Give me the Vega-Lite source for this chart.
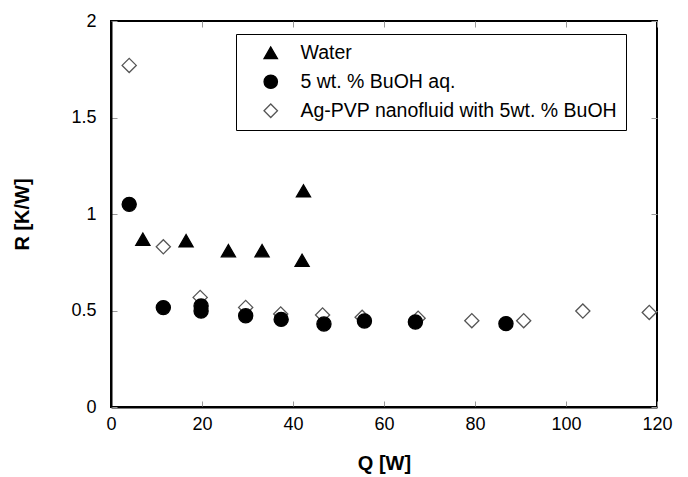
{
  "$schema": "https://vega.github.io/schema/vega-lite/v6.json",
  "width": 546,
  "height": 386,
  "autosize": "none",
  "padding": {"left": 111, "top": 21, "right": 31, "bottom": 70},
  "background": "white",
  "config": {
    "font": "Liberation Sans",
    "view": {"stroke": "black", "strokeWidth": 2},
    "axis": {"grid": false, "labelFlush": false},
    "legend": {
      "title": null, "orient": "none", "legendX": 125, "legendY": 13,
      "strokeColor": "black", "fillColor": "white", "padding": 9,
      "labelFontSize": 19.5, "labelColor": "black", "labelLimit": 600,
      "symbolSize": 180, "symbolOffset": 16, "labelOffset": 20, "rowPadding": 8,
      "symbolStrokeWidth": 1.3
    }
  },
  "data": {
    "values": [
      {"Q": 4.0, "R": 1.77, "fluid": "Ag-PVP nanofluid with 5wt. % BuOH"},
      {"Q": 11.5, "R": 0.83, "fluid": "Ag-PVP nanofluid with 5wt. % BuOH"},
      {"Q": 19.6, "R": 0.568, "fluid": "Ag-PVP nanofluid with 5wt. % BuOH"},
      {"Q": 29.6, "R": 0.516, "fluid": "Ag-PVP nanofluid with 5wt. % BuOH"},
      {"Q": 37.3, "R": 0.482, "fluid": "Ag-PVP nanofluid with 5wt. % BuOH"},
      {"Q": 46.5, "R": 0.477, "fluid": "Ag-PVP nanofluid with 5wt. % BuOH"},
      {"Q": 55.2, "R": 0.465, "fluid": "Ag-PVP nanofluid with 5wt. % BuOH"},
      {"Q": 67.5, "R": 0.46, "fluid": "Ag-PVP nanofluid with 5wt. % BuOH"},
      {"Q": 79.3, "R": 0.447, "fluid": "Ag-PVP nanofluid with 5wt. % BuOH"},
      {"Q": 90.7, "R": 0.447, "fluid": "Ag-PVP nanofluid with 5wt. % BuOH"},
      {"Q": 103.7, "R": 0.497, "fluid": "Ag-PVP nanofluid with 5wt. % BuOH"},
      {"Q": 118.3, "R": 0.49, "fluid": "Ag-PVP nanofluid with 5wt. % BuOH"},
      {"Q": 4.0, "R": 1.05, "fluid": "5 wt. % BuOH aq."},
      {"Q": 11.5, "R": 0.515, "fluid": "5 wt. % BuOH aq."},
      {"Q": 19.8, "R": 0.523, "fluid": "5 wt. % BuOH aq."},
      {"Q": 19.8, "R": 0.497, "fluid": "5 wt. % BuOH aq."},
      {"Q": 29.6, "R": 0.473, "fluid": "5 wt. % BuOH aq."},
      {"Q": 37.4, "R": 0.454, "fluid": "5 wt. % BuOH aq."},
      {"Q": 46.8, "R": 0.43, "fluid": "5 wt. % BuOH aq."},
      {"Q": 55.7, "R": 0.446, "fluid": "5 wt. % BuOH aq."},
      {"Q": 66.9, "R": 0.44, "fluid": "5 wt. % BuOH aq."},
      {"Q": 86.8, "R": 0.432, "fluid": "5 wt. % BuOH aq."},
      {"Q": 7.0, "R": 0.869, "fluid": "Water"},
      {"Q": 16.5, "R": 0.862, "fluid": "Water"},
      {"Q": 25.8, "R": 0.81, "fluid": "Water"},
      {"Q": 33.2, "R": 0.81, "fluid": "Water"},
      {"Q": 42.0, "R": 0.76, "fluid": "Water"},
      {"Q": 42.3, "R": 1.12, "fluid": "Water"}
    ]
  },
  "layer": [
    {
      "mark": {"type": "point", "size": 200, "strokeWidth": 1.3, "opacity": 1},
      "encoding": {
        "x": {
          "field": "Q", "type": "quantitative",
          "scale": {"domain": [0, 120], "nice": false, "zero": false},
          "axis": {
            "title": "Q [W]", "orient": "bottom", "values": [0, 20, 40, 60, 80, 100, 120],
            "domainColor": "black", "domainWidth": 2, "tickSize": -6, "tickColor": "#999",
            "labelFontSize": 18, "labelColor": "black", "labelPadding": 14,
            "titleFontSize": 20, "titleFontWeight": "bold", "titleColor": "black", "titlePadding": 20
          }
        },
        "y": {
          "field": "R", "type": "quantitative",
          "scale": {"domain": [0, 2], "nice": false},
          "axis": {
            "title": "R [K/W]", "orient": "left", "values": [0, 0.5, 1, 1.5, 2], "format": "~g",
            "domainColor": "black", "domainWidth": 2, "tickSize": -6, "tickColor": "#999",
            "labelFontSize": 18, "labelColor": "black", "labelPadding": 21,
            "titleFontSize": 20, "titleFontWeight": "bold", "titleColor": "black", "titlePadding": 38
          }
        },
        "shape": {
          "field": "fluid", "type": "nominal",
          "scale": {
            "domain": ["Water", "5 wt. % BuOH aq.", "Ag-PVP nanofluid with 5wt. % BuOH"],
            "range": ["triangle-up", "circle", "diamond"]
          }
        },
        "fill": {
          "field": "fluid", "type": "nominal",
          "scale": {
            "domain": ["Water", "5 wt. % BuOH aq.", "Ag-PVP nanofluid with 5wt. % BuOH"],
            "range": ["black", "black", "white"]
          }
        },
        "stroke": {
          "field": "fluid", "type": "nominal",
          "scale": {
            "domain": ["Water", "5 wt. % BuOH aq.", "Ag-PVP nanofluid with 5wt. % BuOH"],
            "range": ["black", "black", "#555555"]
          }
        }
      }
    },
    {
      "mark": {"type": "point", "opacity": 0},
      "encoding": {
        "x": {
          "field": "Q", "type": "quantitative",
          "axis": {"orient": "top", "title": null, "labels": false, "domain": false, "values": [0, 20, 40, 60, 80, 100, 120], "tickSize": -6, "tickColor": "#999"}
        },
        "y": {
          "field": "R", "type": "quantitative",
          "axis": {"orient": "right", "title": null, "labels": false, "domain": false, "values": [0, 0.5, 1, 1.5, 2], "tickSize": -6, "tickColor": "#999"}
        }
      }
    }
  ],
  "resolve": {"axis": {"x": "independent", "y": "independent"}}
}
